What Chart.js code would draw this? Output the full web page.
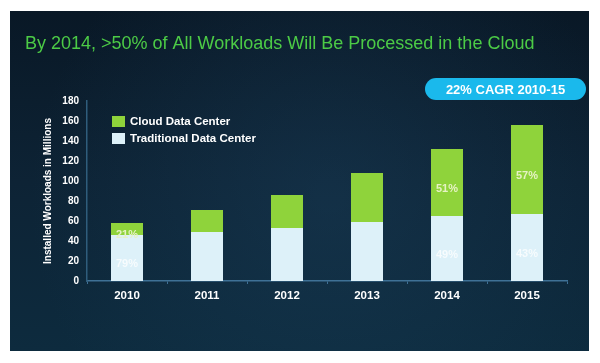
<!DOCTYPE html>
<html>
<head>
<meta charset="utf-8">
<title>Installed Workloads</title>
<script src="https://cdn.jsdelivr.net/npm/chart.js@4.4.0/dist/chart.umd.min.js"></script>
<style>
  html, body { margin: 0; padding: 0; background: #ffffff; }
  #wrap { width: 600px; height: 363px; }
</style>
</head>
<body>
<div id="wrap"><canvas id="workloadsChart" width="600" height="363"></canvas></div>
<script>
// values (installed workloads, millions)
const years = ['2010', '2011', '2012', '2013', '2014', '2015'];
const traditionalWorkloads = [46, 49, 53, 59, 65, 67];
const cloudWorkloads = [12, 22, 33, 49, 67, 89];
const traditionalShare = ['79%', '', '', '', '49%', '43%'];
const cloudShare = ['21%', '', '', '', '51%', '57%'];
const yMin = 0;
const yMax = 180;
const yStep = 20;
const chartTitle = 'By 2014, >50% of All Workloads Will Be Processed in the Cloud';
const cagrNote = '22% CAGR 2010-15';

const FONT = "'Liberation Sans', Arial, sans-serif";

// dark slide panel behind everything
const panelPlugin = {
    id: 'panel',
    beforeDraw(chart) {
        const ctx = chart.ctx;
        ctx.save();
        const grad = ctx.createLinearGradient(0, 11, 0, 351);
        grad.addColorStop(0, '#091826');
        grad.addColorStop(0.5, '#0d2335');
        grad.addColorStop(1, '#0d2b3e');
        ctx.fillStyle = grad;
        ctx.fillRect(10, 11, 579, 340);
        // soft glow in the middle
        const glow = ctx.createRadialGradient(330, 200, 10, 330, 200, 300);
        glow.addColorStop(0, 'rgba(30, 70, 100, 0.35)');
        glow.addColorStop(1, 'rgba(30, 70, 100, 0)');
        ctx.fillStyle = glow;
        ctx.fillRect(10, 11, 579, 340);
        ctx.restore();
    }
};

// headline + CAGR pill
const headerPlugin = {
    id: 'header',
    afterDraw(chart) {
        const ctx = chart.ctx;
        ctx.save();
        ctx.fillStyle = '#4ccb46';
        ctx.font = '18px ' + FONT;
        ctx.textBaseline = 'alphabetic';
        ctx.textAlign = 'left';
        ctx.fillText(chartTitle, 25, 49);

        const px = 425, py = 78, pw = 161, ph = 22, r = 11;
        ctx.fillStyle = '#1ab9ec';
        ctx.beginPath();
        ctx.moveTo(px + r, py);
        ctx.arcTo(px + pw, py, px + pw, py + ph, r);
        ctx.arcTo(px + pw, py + ph, px, py + ph, r);
        ctx.arcTo(px, py + ph, px, py, r);
        ctx.arcTo(px, py, px + pw, py, r);
        ctx.closePath();
        ctx.fill();
        ctx.fillStyle = '#ffffff';
        ctx.font = 'bold 13px ' + FONT;
        ctx.textAlign = 'center';
        ctx.textBaseline = 'middle';
        ctx.fillText(cagrNote, px + pw / 2, py + ph / 2 + 1);
        ctx.restore();
    }
};

// legend sitting inside the plot, cloud first
const insideLegendPlugin = {
    id: 'insideLegend',
    afterDraw(chart) {
        const ctx = chart.ctx;
        const sets = chart.data.datasets.slice().reverse();
        ctx.save();
        ctx.font = 'bold 11.5px ' + FONT;
        ctx.textBaseline = 'middle';
        ctx.textAlign = 'left';
        sets.forEach((ds, i) => {
            const y = 116 + i * 17;
            ctx.fillStyle = ds.backgroundColor;
            ctx.fillRect(112, y, 13, 11);
            ctx.fillStyle = '#ffffff';
            ctx.fillText(ds.label, 130, y + 6);
        });
        ctx.restore();
    }
};

// percentage share printed in the bar segments
const shareLabelPlugin = {
    id: 'shareLabels',
    afterDatasetsDraw(chart) {
        const ctx = chart.ctx;
        ctx.save();
        ctx.font = 'bold 11px ' + FONT;
        ctx.textAlign = 'center';
        ctx.textBaseline = 'middle';
        chart.data.datasets.forEach((ds, di) => {
            const meta = chart.getDatasetMeta(di);
            meta.data.forEach((bar, i) => {
                const txt = ds.shares[i];
                if (!txt) return;
                const mid = (bar.y + bar.base) / 2 + 6;
                ctx.fillStyle = ds.shareColor;
                ctx.fillText(txt, bar.x, mid);
            });
        });
        ctx.restore();
    }
};

const ctx = document.getElementById('workloadsChart').getContext('2d');

new Chart(ctx, {
    type: 'bar',
    data: {
        labels: years,
        datasets: [
            {
                label: 'Traditional Data Center',
                data: traditionalWorkloads,
                backgroundColor: '#ddf1f9',
                shares: traditionalShare,
                shareColor: 'rgba(255, 255, 255, 0.75)',
                borderWidth: 0,
                categoryPercentage: 0.8,
                barPercentage: 0.5
            },
            {
                label: 'Cloud Data Center',
                data: cloudWorkloads,
                backgroundColor: '#8fd33b',
                shares: cloudShare,
                shareColor: '#e6f2c4',
                borderWidth: 0,
                categoryPercentage: 0.8,
                barPercentage: 0.5
            }
        ]
    },
    options: {
        responsive: false,
        animation: false,
        devicePixelRatio: 1,
        layout: {
            padding: { left: 38, right: 33, top: 101, bottom: 52 }
        },
        plugins: {
            legend: { display: false },
            tooltip: { enabled: false },
            title: { display: false }
        },
        scales: {
            x: {
                stacked: true,
                grid: {
                    display: true,
                    drawOnChartArea: false,
                    drawTicks: true,
                    tickLength: 3,
                    color: '#3f7196'
                },
                border: { color: '#3f7196', width: 1.5 },
                ticks: {
                    color: '#ffffff',
                    padding: 5,
                    font: { family: FONT, size: 11.5, weight: 'bold' }
                },
                afterFit(scale) { scale.height = 30; }
            },
            y: {
                stacked: true,
                min: yMin,
                max: yMax,
                grid: { display: false, drawTicks: false },
                border: { color: '#2f5d7c', width: 1.5 },
                ticks: {
                    stepSize: yStep,
                    color: '#ffffff',
                    padding: 8,
                    font: { family: FONT, size: 10, weight: 'bold' }
                },
                title: {
                    display: true,
                    text: 'Installed Workloads in Millions',
                    color: '#ffffff',
                    padding: { top: 4, bottom: 0 },
                    font: { family: FONT, size: 10, weight: 'bold' }
                },
                afterFit(scale) { scale.width = 49; }
            }
        }
    },
    plugins: [panelPlugin, headerPlugin, insideLegendPlugin, shareLabelPlugin]
});
</script>
</body>
</html>
